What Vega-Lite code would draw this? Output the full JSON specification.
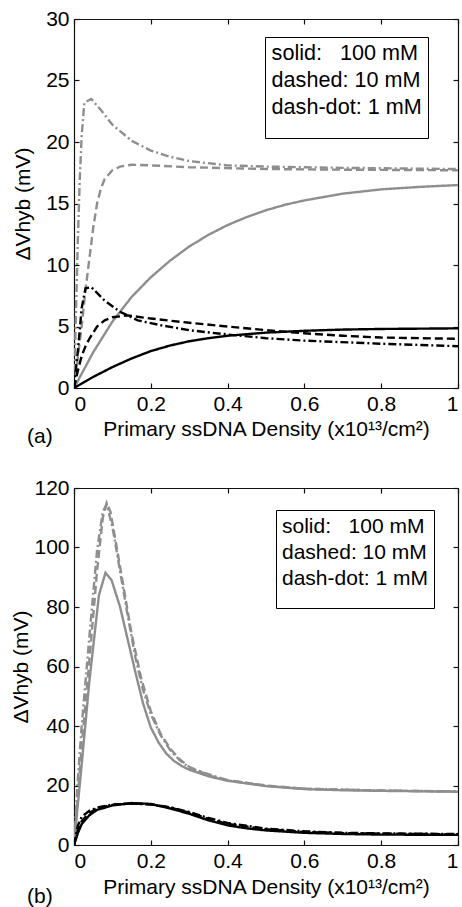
{
  "$schema": "https://vega.github.io/schema/vega-lite/v6.json",
  "padding": {"left": 10, "top": 8, "right": 3, "bottom": 0},
  "config": {
    "font": "Liberation Sans",
    "view": {"stroke": null},
    "axis": {"grid": false, "domainColor": "#111", "tickColor": "#111", "labelColor": "#000", "titleColor": "#000", "labelFontSize": 21, "titleFontSize": 21, "titleFontWeight": "normal", "tickSize": -5, "labelPadding": 10, "domainWidth": 1.2, "tickWidth": 1.2, "labelFont": "Liberation Sans", "titleFont": "Liberation Sans"},
    "title": {"fontSize": 21, "fontWeight": "normal", "font": "Liberation Sans", "color": "#000"}
  },
  "resolve": {"scale": {"strokeDash": "independent", "color": "independent"}, "legend": {"strokeDash": "independent"}},
  "spacing": 30,
  "data": {"values": [
    {"p":"a","s":"A","salt":"100 mM","x":0,"y":0},{"p":"a","s":"A","salt":"100 mM","x":0.05,"y":2.9},{"p":"a","s":"A","salt":"100 mM","x":0.1,"y":5.4},{"p":"a","s":"A","salt":"100 mM","x":0.15,"y":7.4},{"p":"a","s":"A","salt":"100 mM","x":0.2,"y":9.0},{"p":"a","s":"A","salt":"100 mM","x":0.25,"y":10.35},{"p":"a","s":"A","salt":"100 mM","x":0.3,"y":11.5},{"p":"a","s":"A","salt":"100 mM","x":0.35,"y":12.45},{"p":"a","s":"A","salt":"100 mM","x":0.4,"y":13.25},{"p":"a","s":"A","salt":"100 mM","x":0.45,"y":13.9},{"p":"a","s":"A","salt":"100 mM","x":0.5,"y":14.45},{"p":"a","s":"A","salt":"100 mM","x":0.55,"y":14.9},{"p":"a","s":"A","salt":"100 mM","x":0.6,"y":15.25},{"p":"a","s":"A","salt":"100 mM","x":0.7,"y":15.8},{"p":"a","s":"A","salt":"100 mM","x":0.8,"y":16.15},{"p":"a","s":"A","salt":"100 mM","x":0.9,"y":16.35},{"p":"a","s":"A","salt":"100 mM","x":1,"y":16.5},
    {"p":"a","s":"A","salt":"10 mM","x":0,"y":0},{"p":"a","s":"A","salt":"10 mM","x":0.01,"y":2.5},{"p":"a","s":"A","salt":"10 mM","x":0.02,"y":5},{"p":"a","s":"A","salt":"10 mM","x":0.03,"y":8},{"p":"a","s":"A","salt":"10 mM","x":0.04,"y":10.5},{"p":"a","s":"A","salt":"10 mM","x":0.05,"y":13},{"p":"a","s":"A","salt":"10 mM","x":0.06,"y":15},{"p":"a","s":"A","salt":"10 mM","x":0.07,"y":16.2},{"p":"a","s":"A","salt":"10 mM","x":0.08,"y":17},{"p":"a","s":"A","salt":"10 mM","x":0.1,"y":17.7},{"p":"a","s":"A","salt":"10 mM","x":0.12,"y":18},{"p":"a","s":"A","salt":"10 mM","x":0.15,"y":18.15},{"p":"a","s":"A","salt":"10 mM","x":0.2,"y":18.1},{"p":"a","s":"A","salt":"10 mM","x":0.3,"y":17.95},{"p":"a","s":"A","salt":"10 mM","x":0.5,"y":17.8},{"p":"a","s":"A","salt":"10 mM","x":0.7,"y":17.75},{"p":"a","s":"A","salt":"10 mM","x":1,"y":17.7},
    {"p":"a","s":"A","salt":"1 mM","x":0,"y":0},{"p":"a","s":"A","salt":"1 mM","x":0.005,"y":6},{"p":"a","s":"A","salt":"1 mM","x":0.01,"y":12},{"p":"a","s":"A","salt":"1 mM","x":0.015,"y":17},{"p":"a","s":"A","salt":"1 mM","x":0.02,"y":20.5},{"p":"a","s":"A","salt":"1 mM","x":0.027,"y":23.2},{"p":"a","s":"A","salt":"1 mM","x":0.045,"y":23.5},{"p":"a","s":"A","salt":"1 mM","x":0.07,"y":22.6},{"p":"a","s":"A","salt":"1 mM","x":0.1,"y":21.4},{"p":"a","s":"A","salt":"1 mM","x":0.15,"y":20.1},{"p":"a","s":"A","salt":"1 mM","x":0.2,"y":19.3},{"p":"a","s":"A","salt":"1 mM","x":0.25,"y":18.8},{"p":"a","s":"A","salt":"1 mM","x":0.3,"y":18.45},{"p":"a","s":"A","salt":"1 mM","x":0.4,"y":18.1},{"p":"a","s":"A","salt":"1 mM","x":0.5,"y":18.0},{"p":"a","s":"A","salt":"1 mM","x":0.7,"y":17.9},{"p":"a","s":"A","salt":"1 mM","x":1,"y":17.8},
    {"p":"a","s":"B","salt":"100 mM","x":0,"y":0},{"p":"a","s":"B","salt":"100 mM","x":0.05,"y":0.9},{"p":"a","s":"B","salt":"100 mM","x":0.1,"y":1.7},{"p":"a","s":"B","salt":"100 mM","x":0.15,"y":2.4},{"p":"a","s":"B","salt":"100 mM","x":0.2,"y":3.0},{"p":"a","s":"B","salt":"100 mM","x":0.25,"y":3.45},{"p":"a","s":"B","salt":"100 mM","x":0.3,"y":3.8},{"p":"a","s":"B","salt":"100 mM","x":0.35,"y":4.05},{"p":"a","s":"B","salt":"100 mM","x":0.4,"y":4.25},{"p":"a","s":"B","salt":"100 mM","x":0.5,"y":4.5},{"p":"a","s":"B","salt":"100 mM","x":0.6,"y":4.65},{"p":"a","s":"B","salt":"100 mM","x":0.7,"y":4.75},{"p":"a","s":"B","salt":"100 mM","x":0.8,"y":4.8},{"p":"a","s":"B","salt":"100 mM","x":1,"y":4.85},
    {"p":"a","s":"B","salt":"10 mM","x":0,"y":0},{"p":"a","s":"B","salt":"10 mM","x":0.01,"y":1.4},{"p":"a","s":"B","salt":"10 mM","x":0.02,"y":2.6},{"p":"a","s":"B","salt":"10 mM","x":0.03,"y":3.4},{"p":"a","s":"B","salt":"10 mM","x":0.04,"y":4.0},{"p":"a","s":"B","salt":"10 mM","x":0.06,"y":5.0},{"p":"a","s":"B","salt":"10 mM","x":0.08,"y":5.5},{"p":"a","s":"B","salt":"10 mM","x":0.1,"y":5.75},{"p":"a","s":"B","salt":"10 mM","x":0.14,"y":5.9},{"p":"a","s":"B","salt":"10 mM","x":0.2,"y":5.65},{"p":"a","s":"B","salt":"10 mM","x":0.3,"y":5.3},{"p":"a","s":"B","salt":"10 mM","x":0.4,"y":5.0},{"p":"a","s":"B","salt":"10 mM","x":0.5,"y":4.7},{"p":"a","s":"B","salt":"10 mM","x":0.6,"y":4.45},{"p":"a","s":"B","salt":"10 mM","x":0.7,"y":4.25},{"p":"a","s":"B","salt":"10 mM","x":0.8,"y":4.1},{"p":"a","s":"B","salt":"10 mM","x":1,"y":4.0},
    {"p":"a","s":"B","salt":"1 mM","x":0,"y":0},{"p":"a","s":"B","salt":"1 mM","x":0.01,"y":3},{"p":"a","s":"B","salt":"1 mM","x":0.02,"y":6.5},{"p":"a","s":"B","salt":"1 mM","x":0.03,"y":8.1},{"p":"a","s":"B","salt":"1 mM","x":0.045,"y":8.2},{"p":"a","s":"B","salt":"1 mM","x":0.08,"y":7.1},{"p":"a","s":"B","salt":"1 mM","x":0.12,"y":6.2},{"p":"a","s":"B","salt":"1 mM","x":0.166,"y":5.5},{"p":"a","s":"B","salt":"1 mM","x":0.227,"y":5.1},{"p":"a","s":"B","salt":"1 mM","x":0.3,"y":4.7},{"p":"a","s":"B","salt":"1 mM","x":0.4,"y":4.35},{"p":"a","s":"B","salt":"1 mM","x":0.5,"y":4.05},{"p":"a","s":"B","salt":"1 mM","x":0.6,"y":3.85},{"p":"a","s":"B","salt":"1 mM","x":0.8,"y":3.6},{"p":"a","s":"B","salt":"1 mM","x":1,"y":3.4},
    {"p":"b","s":"A","salt":"100 mM","x":0,"y":0},{"p":"b","s":"A","salt":"100 mM","x":0.02,"y":27},{"p":"b","s":"A","salt":"100 mM","x":0.04,"y":55},{"p":"b","s":"A","salt":"100 mM","x":0.065,"y":84},{"p":"b","s":"A","salt":"100 mM","x":0.082,"y":91.5},{"p":"b","s":"A","salt":"100 mM","x":0.098,"y":89},{"p":"b","s":"A","salt":"100 mM","x":0.12,"y":80},{"p":"b","s":"A","salt":"100 mM","x":0.14,"y":69},{"p":"b","s":"A","salt":"100 mM","x":0.16,"y":58},{"p":"b","s":"A","salt":"100 mM","x":0.18,"y":47.5},{"p":"b","s":"A","salt":"100 mM","x":0.2,"y":39.5},{"p":"b","s":"A","salt":"100 mM","x":0.22,"y":34.5},{"p":"b","s":"A","salt":"100 mM","x":0.24,"y":30.8},{"p":"b","s":"A","salt":"100 mM","x":0.26,"y":28.3},{"p":"b","s":"A","salt":"100 mM","x":0.28,"y":26.6},{"p":"b","s":"A","salt":"100 mM","x":0.3,"y":25.3},{"p":"b","s":"A","salt":"100 mM","x":0.35,"y":23.1},{"p":"b","s":"A","salt":"100 mM","x":0.4,"y":21.6},{"p":"b","s":"A","salt":"100 mM","x":0.5,"y":19.8},{"p":"b","s":"A","salt":"100 mM","x":0.6,"y":18.8},{"p":"b","s":"A","salt":"100 mM","x":0.7,"y":18.4},{"p":"b","s":"A","salt":"100 mM","x":0.8,"y":18.2},{"p":"b","s":"A","salt":"100 mM","x":1,"y":17.9},
    {"p":"b","s":"A","salt":"10 mM","x":0,"y":0},{"p":"b","s":"A","salt":"10 mM","x":0.02,"y":33},{"p":"b","s":"A","salt":"10 mM","x":0.04,"y":62},{"p":"b","s":"A","salt":"10 mM","x":0.06,"y":92},{"p":"b","s":"A","salt":"10 mM","x":0.075,"y":110},{"p":"b","s":"A","salt":"10 mM","x":0.085,"y":115},{"p":"b","s":"A","salt":"10 mM","x":0.095,"y":112},{"p":"b","s":"A","salt":"10 mM","x":0.11,"y":101},{"p":"b","s":"A","salt":"10 mM","x":0.13,"y":86},{"p":"b","s":"A","salt":"10 mM","x":0.15,"y":71},{"p":"b","s":"A","salt":"10 mM","x":0.175,"y":56},{"p":"b","s":"A","salt":"10 mM","x":0.2,"y":45},{"p":"b","s":"A","salt":"10 mM","x":0.225,"y":37.5},{"p":"b","s":"A","salt":"10 mM","x":0.25,"y":32.5},{"p":"b","s":"A","salt":"10 mM","x":0.275,"y":28.8},{"p":"b","s":"A","salt":"10 mM","x":0.3,"y":26.3},{"p":"b","s":"A","salt":"10 mM","x":0.35,"y":23.4},{"p":"b","s":"A","salt":"10 mM","x":0.4,"y":21.8},{"p":"b","s":"A","salt":"10 mM","x":0.5,"y":20},{"p":"b","s":"A","salt":"10 mM","x":0.6,"y":18.9},{"p":"b","s":"A","salt":"10 mM","x":0.8,"y":18.3},{"p":"b","s":"A","salt":"10 mM","x":1,"y":18},
    {"p":"b","s":"A","salt":"1 mM","x":0,"y":0},{"p":"b","s":"A","salt":"1 mM","x":0.01,"y":22},{"p":"b","s":"A","salt":"1 mM","x":0.02,"y":40},{"p":"b","s":"A","salt":"1 mM","x":0.04,"y":70},{"p":"b","s":"A","salt":"1 mM","x":0.06,"y":99},{"p":"b","s":"A","salt":"1 mM","x":0.075,"y":112},{"p":"b","s":"A","salt":"1 mM","x":0.085,"y":114.5},{"p":"b","s":"A","salt":"1 mM","x":0.1,"y":107},{"p":"b","s":"A","salt":"1 mM","x":0.12,"y":92},{"p":"b","s":"A","salt":"1 mM","x":0.14,"y":77},{"p":"b","s":"A","salt":"1 mM","x":0.16,"y":63},{"p":"b","s":"A","salt":"1 mM","x":0.18,"y":52},{"p":"b","s":"A","salt":"1 mM","x":0.2,"y":44},{"p":"b","s":"A","salt":"1 mM","x":0.225,"y":37},{"p":"b","s":"A","salt":"1 mM","x":0.25,"y":32},{"p":"b","s":"A","salt":"1 mM","x":0.275,"y":28.5},{"p":"b","s":"A","salt":"1 mM","x":0.3,"y":26},{"p":"b","s":"A","salt":"1 mM","x":0.4,"y":21.7},{"p":"b","s":"A","salt":"1 mM","x":0.5,"y":19.9},{"p":"b","s":"A","salt":"1 mM","x":0.6,"y":18.9},{"p":"b","s":"A","salt":"1 mM","x":0.8,"y":18.3},{"p":"b","s":"A","salt":"1 mM","x":1,"y":18},
    {"p":"b","s":"B","salt":"100 mM","x":0,"y":0},{"p":"b","s":"B","salt":"100 mM","x":0.01,"y":4},{"p":"b","s":"B","salt":"100 mM","x":0.02,"y":7},{"p":"b","s":"B","salt":"100 mM","x":0.04,"y":10},{"p":"b","s":"B","salt":"100 mM","x":0.06,"y":11.8},{"p":"b","s":"B","salt":"100 mM","x":0.1,"y":13.3},{"p":"b","s":"B","salt":"100 mM","x":0.15,"y":14.1},{"p":"b","s":"B","salt":"100 mM","x":0.2,"y":13.8},{"p":"b","s":"B","salt":"100 mM","x":0.25,"y":12.3},{"p":"b","s":"B","salt":"100 mM","x":0.3,"y":10.5},{"p":"b","s":"B","salt":"100 mM","x":0.35,"y":8.3},{"p":"b","s":"B","salt":"100 mM","x":0.4,"y":6.6},{"p":"b","s":"B","salt":"100 mM","x":0.45,"y":5.6},{"p":"b","s":"B","salt":"100 mM","x":0.5,"y":4.9},{"p":"b","s":"B","salt":"100 mM","x":0.6,"y":4.1},{"p":"b","s":"B","salt":"100 mM","x":0.7,"y":3.7},{"p":"b","s":"B","salt":"100 mM","x":0.8,"y":3.5},{"p":"b","s":"B","salt":"100 mM","x":0.9,"y":3.45},{"p":"b","s":"B","salt":"100 mM","x":1,"y":3.4},
    {"p":"b","s":"B","salt":"10 mM","x":0,"y":0},{"p":"b","s":"B","salt":"10 mM","x":0.01,"y":5},{"p":"b","s":"B","salt":"10 mM","x":0.02,"y":8},{"p":"b","s":"B","salt":"10 mM","x":0.04,"y":10.8},{"p":"b","s":"B","salt":"10 mM","x":0.06,"y":12.3},{"p":"b","s":"B","salt":"10 mM","x":0.1,"y":13.5},{"p":"b","s":"B","salt":"10 mM","x":0.15,"y":14},{"p":"b","s":"B","salt":"10 mM","x":0.2,"y":13.7},{"p":"b","s":"B","salt":"10 mM","x":0.25,"y":12.6},{"p":"b","s":"B","salt":"10 mM","x":0.3,"y":10.9},{"p":"b","s":"B","salt":"10 mM","x":0.35,"y":8.8},{"p":"b","s":"B","salt":"10 mM","x":0.4,"y":7.1},{"p":"b","s":"B","salt":"10 mM","x":0.5,"y":5.3},{"p":"b","s":"B","salt":"10 mM","x":0.6,"y":4.4},{"p":"b","s":"B","salt":"10 mM","x":0.7,"y":4},{"p":"b","s":"B","salt":"10 mM","x":0.8,"y":3.8},{"p":"b","s":"B","salt":"10 mM","x":1,"y":3.6},
    {"p":"b","s":"B","salt":"1 mM","x":0,"y":0},{"p":"b","s":"B","salt":"1 mM","x":0.01,"y":6.5},{"p":"b","s":"B","salt":"1 mM","x":0.02,"y":9.5},{"p":"b","s":"B","salt":"1 mM","x":0.04,"y":11.5},{"p":"b","s":"B","salt":"1 mM","x":0.06,"y":12.6},{"p":"b","s":"B","salt":"1 mM","x":0.1,"y":13.6},{"p":"b","s":"B","salt":"1 mM","x":0.15,"y":13.9},{"p":"b","s":"B","salt":"1 mM","x":0.2,"y":13.6},{"p":"b","s":"B","salt":"1 mM","x":0.25,"y":12.7},{"p":"b","s":"B","salt":"1 mM","x":0.3,"y":11.1},{"p":"b","s":"B","salt":"1 mM","x":0.35,"y":9.1},{"p":"b","s":"B","salt":"1 mM","x":0.4,"y":7.4},{"p":"b","s":"B","salt":"1 mM","x":0.5,"y":5.5},{"p":"b","s":"B","salt":"1 mM","x":0.6,"y":4.6},{"p":"b","s":"B","salt":"1 mM","x":0.7,"y":4.1},{"p":"b","s":"B","salt":"1 mM","x":0.8,"y":3.9},{"p":"b","s":"B","salt":"1 mM","x":1,"y":3.7}
  ]},
  "vconcat": [
    {
      "width": 384, "height": 369,
      "title": {"text": "(a)", "orient": "bottom", "anchor": "start", "frame": "group", "dx": -47, "dy": -13, "offset": 0},
      "transform": [{"filter": "datum.p == 'a'"}],
      "layer": [
        {
          "mark": {"type": "line", "strokeWidth": 2.4, "clip": true},
          "encoding": {
            "x": {"field": "x", "type": "quantitative", "scale": {"domain": [0, 1], "nice": false}, "axis": {"orient": "bottom", "values": [0, 0.2, 0.4, 0.6, 0.8, 1], "format": "~g", "title": "Primary ssDNA Density (x10¹³/cm²)", "titlePadding": 4}},
            "y": {"field": "y", "type": "quantitative", "scale": {"domain": [0, 30], "nice": false}, "axis": {"orient": "left", "values": [0, 5, 10, 15, 20, 25, 30], "title": "ΔVhyb (mV)", "titlePadding": 12}},
            "color": {"field": "s", "type": "nominal", "scale": {"domain": ["A", "B"], "range": ["#8e8e8e", "#000000"]}, "legend": null},
            "strokeDash": {"field": "salt", "type": "nominal", "scale": {"domain": ["100 mM", "10 mM", "1 mM"], "range": [[1, 0], [8, 4], [8, 3, 2, 3]]},
              "legend": {"title": "\u00a0", "titleOrient": "bottom", "titleFontSize": 14, "titlePadding": 0, "orient": "none", "legendX": 191, "legendY": 18, "strokeColor": "#000", "fillColor": "#fff", "padding": 6, "labelFontSize": 21.6, "labelColor": "#000", "symbolSize": 0, "symbolOpacity": 0, "symbolStrokeWidth": 0, "rowPadding": 3.9, "labelOffset": -21, "labelLimit": 300, "cornerRadius": 0,
                "labelExpr": "datum.label == '100 mM' ? 'solid:\u00a0\u00a0 100 mM' : datum.label == '10 mM' ? 'dashed: 10 mM' : 'dash-dot: 1 mM'"}}
          }
        },
        {
          "mark": {"type": "line", "opacity": 0},
          "encoding": {
            "x": {"field": "x", "type": "quantitative", "axis": {"orient": "top", "labels": false, "title": null, "values": [0, 0.2, 0.4, 0.6, 0.8, 1]}},
            "y": {"field": "y", "type": "quantitative", "axis": {"orient": "right", "labels": false, "title": null, "values": [0, 5, 10, 15, 20, 25, 30]}}
          }
        }
      ]
    },
    {
      "width": 384, "height": 357,
      "title": {"text": "(b)", "orient": "bottom", "anchor": "start", "frame": "group", "dx": -47, "dy": -11, "offset": 0},
      "transform": [{"filter": "datum.p == 'b'"}],
      "layer": [
        {
          "mark": {"type": "line", "strokeWidth": 2.4, "clip": true},
          "encoding": {
            "x": {"field": "x", "type": "quantitative", "scale": {"domain": [0, 1], "nice": false}, "axis": {"orient": "bottom", "values": [0, 0.2, 0.4, 0.6, 0.8, 1], "format": "~g", "title": "Primary ssDNA Density (x10¹³/cm²)", "titlePadding": 5}},
            "y": {"field": "y", "type": "quantitative", "scale": {"domain": [0, 120], "nice": false}, "axis": {"orient": "left", "values": [0, 20, 40, 60, 80, 100, 120], "title": "ΔVhyb (mV)", "titlePadding": 2}},
            "color": {"field": "s", "type": "nominal", "scale": {"domain": ["A", "B"], "range": ["#8e8e8e", "#000000"]}, "legend": null},
            "strokeDash": {"field": "salt", "type": "nominal", "scale": {"domain": ["100 mM", "10 mM", "1 mM"], "range": [[1, 0], [8, 4], [8, 3, 2, 3]]},
              "legend": {"title": "\u00a0", "titleOrient": "bottom", "titleFontSize": 13, "titlePadding": 0, "orient": "none", "legendX": 202, "legendY": 22, "strokeColor": "#000", "fillColor": "#fff", "padding": 6, "labelFontSize": 21, "labelColor": "#000", "symbolSize": 0, "symbolOpacity": 0, "symbolStrokeWidth": 0, "rowPadding": 4, "labelOffset": -21, "labelLimit": 300, "cornerRadius": 0,
                "labelExpr": "datum.label == '100 mM' ? 'solid:\u00a0\u00a0 100 mM' : datum.label == '10 mM' ? 'dashed: 10 mM' : 'dash-dot: 1 mM'"}}
          }
        },
        {
          "mark": {"type": "line", "opacity": 0},
          "encoding": {
            "x": {"field": "x", "type": "quantitative", "axis": {"orient": "top", "labels": false, "title": null, "values": [0, 0.2, 0.4, 0.6, 0.8, 1]}},
            "y": {"field": "y", "type": "quantitative", "axis": {"orient": "right", "labels": false, "title": null, "values": [0, 20, 40, 60, 80, 100, 120]}}
          }
        }
      ]
    }
  ]
}
